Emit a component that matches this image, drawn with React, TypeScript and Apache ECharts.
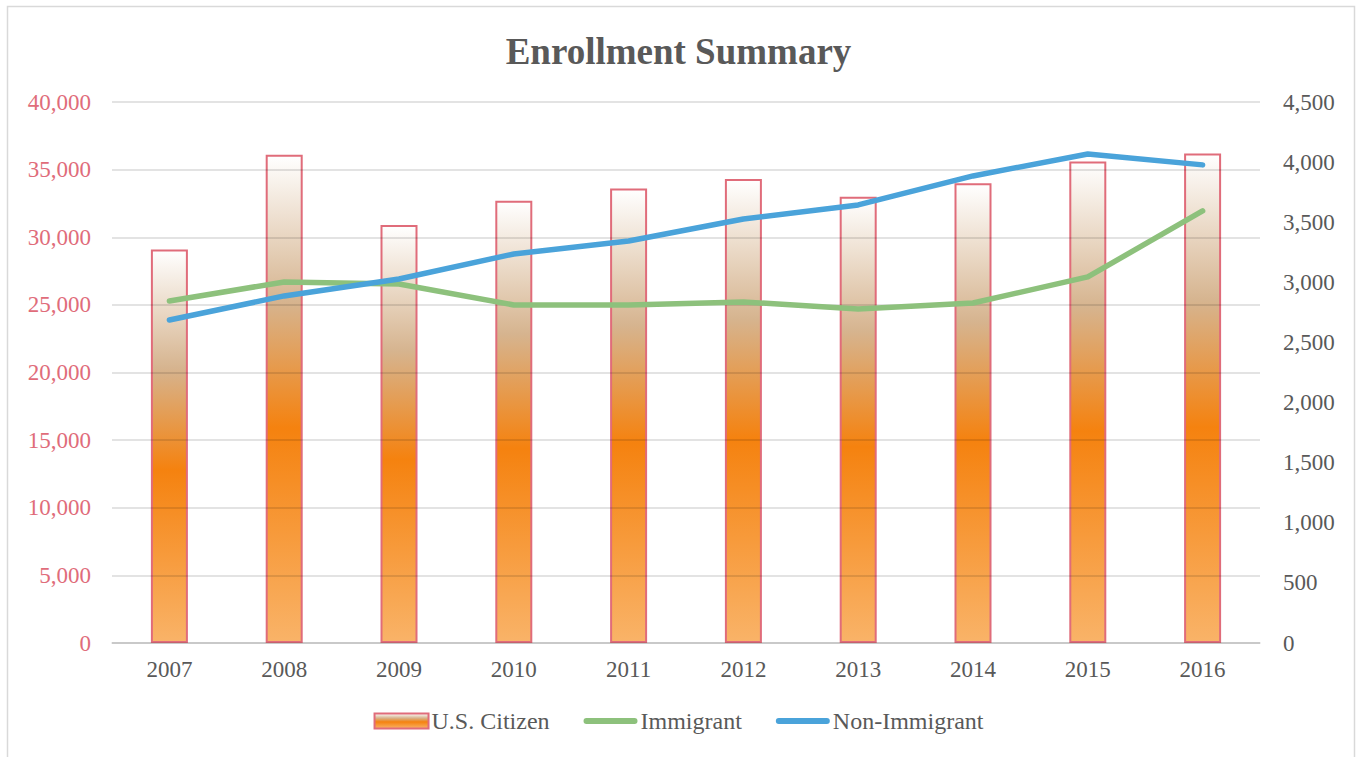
import React, { useEffect, useRef } from "react";
import * as echarts from "echarts";

const years = ["2007", "2008", "2009", "2010", "2011", "2012", "2013", "2014", "2015", "2016"];
const usCitizen = [29100, 36100, 30900, 32700, 33600, 34300, 33000, 34000, 35600, 36200];
const immigrant = [2845, 3003, 2986, 2812, 2812, 2837, 2779, 2828, 3045, 3594];
const nonImmigrant = [2687, 2887, 3028, 3236, 3344, 3527, 3644, 3885, 4068, 3977];

const FONT = "'Liberation Serif', 'DejaVu Serif', serif";
const LINE_ICON = "path://M3,0 L51,0 A3,3 0 0 1 51,6 L3,6 A3,3 0 0 1 3,0 Z";

export default function App() {
  const ref = useRef<HTMLDivElement>(null);
  useEffect(() => {
    if (!ref.current) return;
    const chart = echarts.init(ref.current, null, { renderer: "svg" });
    const barGradient = new echarts.graphic.LinearGradient(0, 0, 0, 1, [
      { offset: 0, color: "#ffffff" },
      { offset: 0.3, color: "#d6b48f" },
      { offset: 0.56, color: "#f5820f" },
      { offset: 1, color: "#f9b368" },
    ]);
    chart.setOption({
      animation: false,
      backgroundColor: "#ffffff",
      title: {
        text: "Enrollment Summary",
        left: "center",
        top: 28,
        textStyle: { fontFamily: FONT, fontSize: 37, fontWeight: "bold", color: "#595959" },
      },
      graphic: [
        {
          type: "rect",
          shape: { x: 7.5, y: 6.5, width: 1347, height: 800 },
          style: { fill: "none", stroke: "#d9d9d9", lineWidth: 1.5 },
          silent: true,
        },
      ],
      legend: {
        bottom: 19,
        left: "center",
        itemGap: 34,
        itemWidth: 54,
        itemHeight: 15,
        textStyle: { fontFamily: FONT, fontSize: 24, color: "#595959", padding: [0, 0, 0, -2] },
        data: [
          { name: "U.S. Citizen", icon: "rect", itemStyle: { color: barGradient, borderColor: "#e06c7a", borderWidth: 2 } },
          { name: "Immigrant", icon: LINE_ICON },
          { name: "Non-Immigrant", icon: LINE_ICON },
        ],
      },
      grid: { left: 112, right: 97, top: 102, bottom: 114 },
      xAxis: {
        type: "category",
        data: years,
        axisLine: { lineStyle: { color: "#d9d9d9", width: 1.5 } },
        axisTick: { show: false },
        axisLabel: { fontFamily: FONT, fontSize: 23, color: "#595959", margin: 15 },
      },
      yAxis: [
        {
          type: "value",
          min: 0,
          max: 40000,
          interval: 5000,
          z: 3,
          axisLine: { show: false },
          axisTick: { show: false },
          splitLine: { lineStyle: { color: "rgba(0,0,0,0.15)", width: 1.5 } },
          axisLabel: {
            fontFamily: FONT,
            fontSize: 23,
            color: "#e06c7a",
            margin: 21,
            formatter: (v: number) => v.toLocaleString("en-US"),
          },
        },
        {
          type: "value",
          min: 0,
          max: 4500,
          interval: 500,
          axisLine: { show: false },
          axisTick: { show: false },
          splitLine: { show: false },
          axisLabel: {
            fontFamily: FONT,
            fontSize: 23,
            color: "#595959",
            margin: 23,
            formatter: (v: number) => v.toLocaleString("en-US"),
          },
        },
      ],
      series: [
        {
          name: "U.S. Citizen",
          type: "bar",
          data: usCitizen,
          barWidth: 37,
          z: 2,
          itemStyle: { color: barGradient, borderColor: "#e06c7a", borderWidth: 2 },
        },
        {
          name: "Immigrant",
          type: "line",
          yAxisIndex: 1,
          data: immigrant,
          z: 5,
          symbol: "none",
          lineStyle: { color: "#8dc17c", width: 5.5, cap: "round", join: "round" },
          itemStyle: { color: "#8dc17c" },
        },
        {
          name: "Non-Immigrant",
          type: "line",
          yAxisIndex: 1,
          data: nonImmigrant,
          z: 6,
          symbol: "none",
          lineStyle: { color: "#4aa3da", width: 5.5, cap: "round", join: "round" },
          itemStyle: { color: "#4aa3da" },
        },
      ],
    });
    return () => chart.dispose();
  }, []);
  return (
    <div
      ref={ref}
      style={{ position: "absolute", left: 0, top: 0, width: 1357, height: 757 }}
    />
  );
}
